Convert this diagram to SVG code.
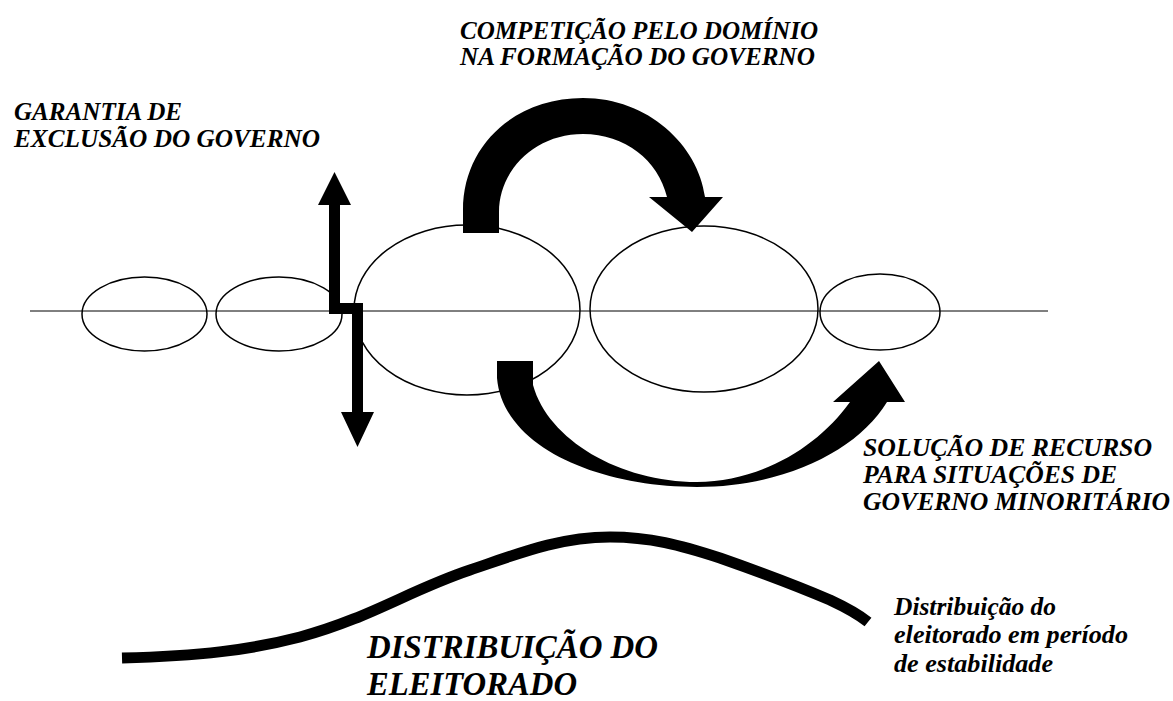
<svg xmlns="http://www.w3.org/2000/svg" width="1173" height="701" viewBox="0 0 1173 701">
<style>
.ell{fill:none;stroke:#000;stroke-width:1.5}
.arrow{fill:#000;stroke:none}
text{fill:#000;font-family:'Liberation Serif','Times New Roman',serif;font-weight:bold;font-style:italic}
</style>
<rect width="1173" height="701" fill="#fff"/>
<g id="axis">
<line x1="30" y1="311" x2="1048" y2="311" stroke="#000" stroke-width="1"/>
</g>
<g id="party1"><ellipse class="ell" cx="144.5" cy="314" rx="62.5" ry="37"/></g>
<g id="party2"><ellipse class="ell" cx="279" cy="314" rx="63" ry="37"/></g>
<g id="party3"><ellipse class="ell" cx="467" cy="310" rx="113" ry="85"/></g>
<g id="party4"><ellipse class="ell" cx="704" cy="309" rx="114" ry="83"/></g>
<g id="party5"><ellipse class="ell" cx="880" cy="312" rx="60" ry="38"/></g>
<g id="connectors">
<path class="arrow" d="M334.5 172 L351 205 L340 205 L340 303 L363 303 L363 412 L374 412 L357.5 447 L341 412 L352 412 L352 314 L329 314 L329 205 L318 205 Z"/>
<path class="arrow" d="M463 233 L463 210 C463 145 515 98 583 98 C648 98 698 145 705 197 L723 197 L692 232 L649 197 L667 197 C658 160 625 134 583 134 C535 134 499 170 499 212 L499 233 Z"/>
<path class="arrow" d="M497 361 L497 378 C503 448 600 487 697 487 C785 487 858 450 887 402 L905 402 L879 361 L833 402 L850 402 C818 447 760 482 697 482 C620 482 548 440 533 385 L533 361 Z"/>
<path d="M122 658 C200 656 250 650 300 637 C370 618 410 590 470 570 C520 553 560 537 610 537 C650 537 680 545 720 558 C760 572 795 585 830 600 C845 607 858 614 868 622" fill="none" stroke="#000" stroke-width="11"/>
</g>
<g font-size="25">
<g id="label-exclusao">
<text x="14" y="120" textLength="168" lengthAdjust="spacingAndGlyphs">GARANTIA DE</text>
<text x="14" y="147" textLength="306" lengthAdjust="spacingAndGlyphs">EXCLUSÃO DO GOVERNO</text>
</g>
<g id="label-competicao">
<text x="460" y="39" textLength="358" lengthAdjust="spacingAndGlyphs">COMPETIÇÃO PELO DOMÍNIO</text>
<text x="460" y="65" textLength="355" lengthAdjust="spacingAndGlyphs">NA FORMAÇÃO DO GOVERNO</text>
</g>
<g id="label-solucao">
<text x="863" y="456" textLength="289" lengthAdjust="spacingAndGlyphs">SOLUÇÃO DE RECURSO</text>
<text x="863" y="483" textLength="254" lengthAdjust="spacingAndGlyphs">PARA SITUAÇÕES DE</text>
<text x="863" y="510" textLength="307" lengthAdjust="spacingAndGlyphs">GOVERNO MINORITÁRIO</text>
</g>
<g id="label-distribuicao-estab">
<text x="894" y="615" textLength="162" lengthAdjust="spacingAndGlyphs">Distribuição do</text>
<text x="894" y="643" textLength="234" lengthAdjust="spacingAndGlyphs">eleitorado em período</text>
<text x="894" y="672" textLength="159" lengthAdjust="spacingAndGlyphs">de estabilidade</text>
</g>
<g id="label-distribuicao" font-size="33">
<text x="367" y="658" textLength="291" lengthAdjust="spacingAndGlyphs">DISTRIBUIÇÃO DO</text>
<text x="367" y="695" textLength="210" lengthAdjust="spacingAndGlyphs">ELEITORADO</text>
</g>
</g>
</svg>
